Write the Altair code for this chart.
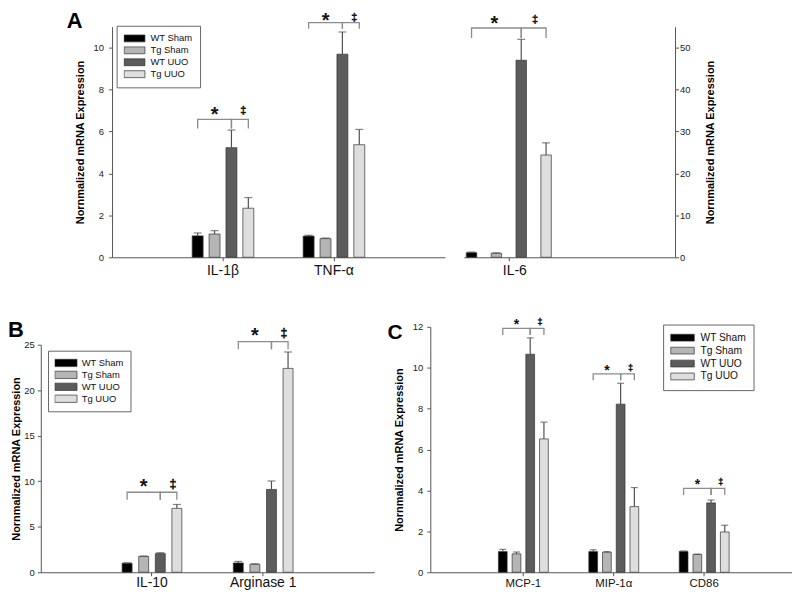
import altair as alt
import pandas as pd

FONT = "Liberation Sans"
TITLE = "Nornmalized mRNA Expression"
W, H = 789, 582

groups = ["WT Sham", "Tg Sham", "WT UUO", "Tg UUO"]
colors = ["#000000", "#b5b5b5", "#5c5c5c", "#dedede"]

# Panel A, left axis
a_genes = ["IL-1β", "TNF-α"]
a_mean = [[1.02, 1.11, 5.23, 2.34], [1.01, 0.89, 9.69, 5.37]]
a_err = [[0.14, 0.16, 0.84, 0.51], [0.04, 0.03, 1.06, 0.73]]
a_br_top = [6.58, 11.2]
a_br_end = [6.15, 10.9]
a_star = [7.05, 11.53]

# Panel A, right axis
a6_genes = ["IL-6"]
a6_mean = [[1.1, 0.95, 47.0, 24.4]]
a6_err = [[0.15, 0.1, 5.0, 2.9]]
a6_br_top = [54.7]
a6_br_end = [52.3]
a6_star = [57.0]

# Panel B
b_genes = ["IL-10", "Arginase 1"]
b_mean = [[0.99, 1.73, 2.05, 7.02], [1.02, 0.88, 9.1, 22.4]]
b_err = [[0.05, 0.06, 0.1, 0.43], [0.17, 0.05, 0.93, 1.8]]
b_br_top = [8.79, 25.35]
b_br_end = [7.98, 24.5]
b_star = [9.9, 26.5]

# Panel C
c_genes = ["MCP-1", "MIP-1α", "CD86"]
c_mean = [[1.01, 0.9, 10.66, 6.52], [1.01, 0.98, 8.22, 3.21], [1.02, 0.87, 3.39, 1.97]]
c_err = [[0.11, 0.09, 0.8, 0.82], [0.09, 0.03, 1.02, 0.93], [0.02, 0.02, 0.14, 0.33]]
c_br_top = [11.92, 9.7, 4.1]
c_br_end = [11.6, 9.39, 3.78]
c_star = [12.3, 10.03, 4.44]


def panel(genes, means, errs, br_top, br_end, star_y, cfg):
    rows = []
    for g, ms, es in zip(genes, means, errs):
        for grp, m, e in zip(groups, ms, es):
            rows.append({"gene": g, "group": grp, "v": m, "v2": m + e})
    bar_df = pd.DataFrame(rows)

    br_rows = []
    for g, t, e in zip(genes, br_top, br_end):
        for bid, (a, b) in enumerate([("WT Sham", "WT UUO"), ("WT UUO", "Tg UUO")]):
            for k, (grp, val) in enumerate([(a, e), (a, t), (b, t), (b, e)]):
                br_rows.append({"gene": g, "group": grp, "v": val, "k": k, "id": f"{g}-{bid}"})
    br_df = pd.DataFrame(br_rows)

    star_df = pd.DataFrame([{"gene": g, "group": "Tg Sham", "v": s, "t": "*"} for g, s in zip(genes, star_y)])
    dag_df = pd.DataFrame([{"gene": g, "group": "Tg UUO", "v": s, "t": "‡"} for g, s in zip(genes, star_y)])

    xr, yr = cfg["xr"], cfg["yr"]
    x = alt.X(
        "gene:N", title=None, sort=genes,
        scale=alt.Scale(domain=genes, range=xr, paddingInner=cfg["pi"], paddingOuter=cfg["po"],
                        align=cfg["align"]),
        axis=alt.Axis(orient="bottom", offset=-(H - yr[0]), labelAngle=0, tickSize=3.5,
                      tickColor="#555", domainColor="#555", labelFontSize=cfg["xfs"], labelFont=FONT,
                      labelColor="#111", labelPadding=cfg["xlp"], labelOffset=cfg.get("xlo", 0),
                      grid=False, labelLimit=300),
    )
    xo = alt.XOffset("group:N", sort=groups,
                     scale=alt.Scale(domain=groups, paddingInner=cfg["opi"], paddingOuter=0))

    yoff = -xr[0] if cfg["orient"] == "left" else -(W - xr[1])
    yaxis = alt.Axis(values=cfg["yticks"], orient=cfg["orient"], offset=yoff, tickSize=3.5,
                     tickColor="#555", domainColor="#555", labelFontSize=9.5, labelFont=FONT,
                     labelColor="#222", labelPadding=cfg["ylp"], grid=False, titleFont=FONT,
                     titleFontSize=11, titleFontWeight="bold", titleColor="#000",
                     titlePadding=cfg["ytp"], titleAngle=270, titleBaseline=cfg["tbase"])
    yscale = alt.Scale(domain=[0, cfg["ymax"]], range=yr, nice=False, zero=True)

    def Y(f):
        return alt.Y(f"{f}:Q", title=TITLE, scale=yscale, axis=yaxis)

    if cfg["legend"] is None:
        leg = None
    else:
        L = cfg["legend"]
        leg = alt.Legend(
            orient="none", legendX=L["x"], legendY=L["y"], title=None,
            symbolType=L["path"], symbolSize=L["size"], symbolStrokeColor="#333",
            symbolStrokeWidth=0.7, symbolOpacity=1, labelFont=FONT, labelFontSize=L["fs"],
            labelColor="#111", labelOffset=L["lo"], padding=L["pad"], strokeColor="#666",
            fillColor="white", rowPadding=0, clipHeight=L["ch"],
        )

    bars = alt.Chart(bar_df).mark_bar(stroke="#333", strokeWidth=0.7).encode(
        x=x, xOffset=xo, y=Y("v"),
        color=alt.Color("group:N", sort=groups, scale=alt.Scale(domain=groups, range=colors), legend=leg),
    )
    err = alt.Chart(bar_df).mark_rule(color="#505050", strokeWidth=1.2).encode(
        x=x, xOffset=xo, y=Y("v"), y2="v2")
    cap = alt.Chart(bar_df).mark_tick(color="#505050", thickness=1.2, size=cfg["cap"]).encode(
        x=x, xOffset=xo, y=Y("v2"))
    br = alt.Chart(br_df).mark_line(color="#8c8c8c", strokeWidth=1.3).encode(
        x=x, xOffset=xo, y=Y("v"), detail="id:N", order="k:O")
    star = alt.Chart(star_df).mark_text(
        font=FONT, fontWeight="bold", fontSize=cfg["sfs"], baseline="alphabetic",
        dy=0.57 * cfg["sfs"], dx=cfg["sdx"], color="#111").encode(
        x=x, xOffset=xo, y=Y("v"), text="t:N")
    dag = alt.Chart(dag_df).mark_text(
        font=FONT, fontWeight="bold", fontSize=cfg["dfs"], baseline="alphabetic",
        dy=0.45 * cfg["dfs"], dx=cfg["ddx"], color="#111", stroke="#111", strokeWidth=0.4).encode(
        x=x, xOffset=xo, y=Y("v"), text="t:N")

    return alt.layer(bars, err, cap, br, star, dag)


def letter(t, px, py, fs):
    return alt.Chart(pd.DataFrame({"t": [t]})).mark_text(
        font=FONT, fontWeight="bold", fontSize=fs, align="left", baseline="top", color="#000"
    ).encode(x=alt.value(px), y=alt.value(py), text="t:N")


path_a = "M-1,-0.33L1,-0.33L1,0.33L-1,0.33Z"
path_c = "M-1,-0.29L1,-0.29L1,0.29L-1,0.29Z"

A_left = panel(a_genes, a_mean, a_err, a_br_top, a_br_end, a_star, dict(
    xr=[104.7, 439.7], yr=[248, 16], ymax=11, yticks=[0, 2, 4, 6, 8, 10],
    pi=0.4448, po=0.7224, align=0.5, opi=0.353,
    cap=8, xfs=14, xlp=3, orient="left", ylp=5, ytp=8, tbase="bottom", sfs=20, sdx=0, dfs=11, ddx=-5,
    legend=dict(x=109.3, y=15, path=path_a, size=441, fs=9.5, lo=5, pad=7, ch=11.5)))

A_right = panel(a6_genes, a6_mean, a6_err, a6_br_top, a6_br_end, a6_star, dict(
    xr=[458.7, 671.3], yr=[248, 16], ymax=55, yticks=[0, 10, 20, 30, 40, 50],
    pi=0, po=0.743, align=0.02, opi=0.58, xlo=6,
    cap=8, xfs=14, xlp=3, orient="right", ylp=1, ytp=15, tbase="top", sfs=20, sdx=-2, dfs=11, ddx=-11,
    legend=None))

B = panel(b_genes, b_mean, b_err, b_br_top, b_br_end, b_star, dict(
    xr=[33, 368.7], yr=[565, 336], ymax=25, yticks=[0, 5, 10, 15, 20, 25],
    pi=0.463, po=0.7315, align=0.5, opi=0.4,
    cap=8, xfs=14, xlp=0, orient="left", ylp=3, ytp=2, tbase="bottom", sfs=20, sdx=0, dfs=12.5, ddx=-4,
    legend=dict(x=40.3, y=342, path=path_a, size=497, fs=9.5, lo=4.4, pad=6.5, ch=11.7)))

C = panel(c_genes, c_mean, c_err, c_br_top, c_br_end, c_star, dict(
    xr=[425, 789], yr=[565, 318], ymax=12, yticks=[0, 2, 4, 6, 8, 10, 12],
    pi=0.448, po=0.724, align=0.52, opi=0.362,
    cap=7, xfs=11.5, xlp=2, orient="left", ylp=4, ytp=8, tbase="bottom", sfs=14, sdx=0, dfs=9, ddx=-4,
    legend=dict(x=659.3, y=315.7, path=path_c, size=562, fs=10.3, lo=5.6, pad=7, ch=12.5)))

chart = alt.layer(
    A_left, A_right, B, C,
    letter("A", 59, 0, 22), letter("B", 0, 311.4, 22), letter("C", 382, 313.4, 21),
).resolve_scale(
    x="independent", y="independent", xOffset="independent", color="independent"
).resolve_axis(
    x="independent", y="independent"
).resolve_legend(
    color="independent"
).properties(
    width=W, height=H, padding=0, background="white"
).configure_view(stroke=None)

chart.save("out.html", embed_options={"renderer": "svg", "actions": False})
